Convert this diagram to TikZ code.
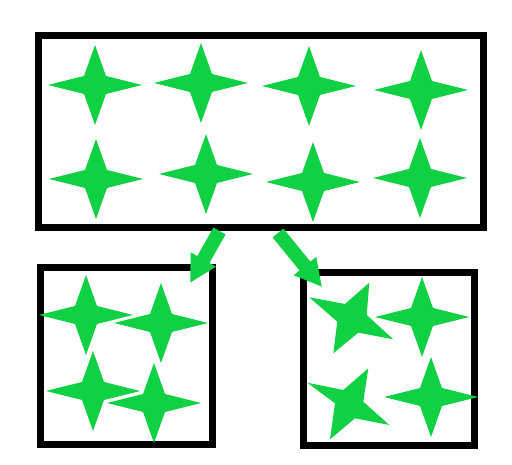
\documentclass[tikz,border=0pt]{standalone}
\usetikzlibrary{arrows.meta}
\definecolor{stargreen}{RGB}{16,208,68}
\tikzset{
  box/.style={draw=black, line width=7pt, fill=none, inner sep=0pt, outer sep=0pt},
  star4/.pic={\fill[stargreen] (-47,0)--(-11,-9)--(0,-40)--(11,-9)--(47,0)--(11,9)--(0,40)--(-11,9)--cycle;},
  flowarrow/.style={draw=stargreen, line width=14pt, -{Triangle[width=27pt,length=27pt]}}
}
\begin{document}
\begin{tikzpicture}[x=1pt,y=-1pt]
\useasboundingbox (0,0) rectangle (512,465);
% boxes
\node[box, minimum width=445pt, minimum height=192pt] (top) at (260.5,132) {};
\node[box, minimum width=172pt, minimum height=176pt] (left) at (126,356) {};
\node[box, minimum width=171pt, minimum height=172pt] (right) at (388.5,359) {};
% top stars
\pic at (95,85) {star4};
\pic at (201,83) {star4};
\pic at (309,86) {star4};
\pic at (421,90) {star4};
\pic at (96,179) {star4};
\pic at (206,174) {star4};
\pic at (313,182) {star4};
\pic at (420,178) {star4};
% bottom-left stars
\pic at (86,315) {star4};
\pic at (161,323) {star4};
\pic at (93,391) {star4};
\pic at (154,403) {star4};
% bottom-right stars
\pic at (422,317) {star4};
\pic at (431,397) {star4};
\fill[stargreen] (309.3,297.3)--(345,304)--(369.3,282.7)--(366.7,315)--(393.3,339.3)--(358.3,332.7)--(333.3,353.3)--(337.3,321.7)--cycle;
\fill[stargreen] (307.3,382.7)--(343.3,390)--(368.3,368.3)--(363.3,401.7)--(389.3,425)--(355,418.3)--(330,439.3)--(335,403.3)--cycle;
% arrows
\coordinate (la) at (219.5,231);
\coordinate (lb) at (190,283);
\coordinate (ra) at (278,233);
\coordinate (rb) at (322,287);
\draw[flowarrow] (la) -- (lb);
\draw[flowarrow] (ra) -- (rb);
\end{tikzpicture}
\end{document}
